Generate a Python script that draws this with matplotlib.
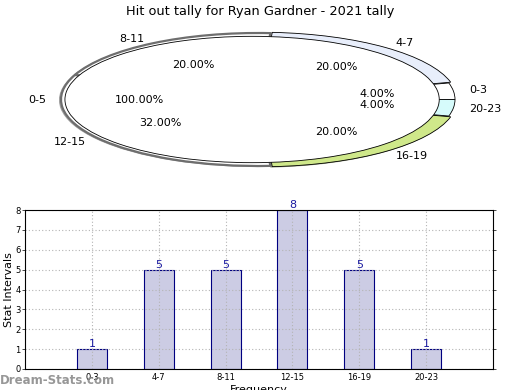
import matplotlib
matplotlib.use("Agg")
import matplotlib.pyplot as plt

title = "Hit out tally for Ryan Gardner - 2021 tally"
categories = ["0-3", "4-7", "8-11", "12-15", "16-19", "20-23"]
counts = [1, 5, 5, 8, 5, 1]
pie_colors = ["#ffffff", "#e8eefb", "#ffffff", "#ffffff", "#cfe88a", "#d6fbfb"]
inner_label = ["0-5"]
inner_value = [1]

fig = plt.figure(figsize=(5.2, 3.9), dpi=100)
fig.patch.set_facecolor("white")

# ---- pie ----
axp = fig.add_axes([61/520, (390-166)/390, 394/520, 133/390])
wedges, texts, autotexts = axp.pie(
    counts, labels=categories, colors=pie_colors, startangle=0,
    autopct="%.2f%%", pctdistance=0.61, labeldistance=1.08,
    explode=[0, 0.015, 0, 0, 0.015, 0],
    wedgeprops=dict(edgecolor="black", linewidth=0.6),
    shadow=dict(ox=-0.006, oy=-0.006, shade=0.6),
    textprops=dict(fontsize=8))
for i in (2, 3):
    wedges[i].set_edgecolor("#6e6e6e")
    wedges[i].set_linewidth(1.6)
w2, t2, a2 = axp.pie(
    inner_value, labels=inner_label, colors=["white"], startangle=0,
    radius=0.95, explode=[0.03],
    autopct="%.2f%%", pctdistance=0.6, labeldistance=1.1,
    wedgeprops=dict(edgecolor="black", linewidth=0.6),
    shadow=dict(ox=-0.014, oy=-0.012, shade=0.5),
    textprops=dict(fontsize=8))
axp.set_xlim(-1, 1)
axp.set_ylim(-1, 1)
axp.set_aspect("auto")
for t in texts + autotexts + t2 + a2:
    t.set_clip_on(False)

fig.text(0.5, 1 - 11/390, title, ha="center", va="center", fontsize=9.3)

# ---- bars ----
axb = fig.add_axes([25/520, (390-369)/390, 468/520, 159/390])
xpos = list(range(1, len(categories) + 1))
bars = axb.bar(xpos, counts, width=0.45, color="#ccccE4", edgecolor="#000080",
               linewidth=0.8, zorder=1)
for x, v in zip(xpos, counts):
    axb.text(x, v, str(v), ha="center", va="bottom", fontsize=8,
             color="#1a1aa0", zorder=3, clip_on=False)
axb.set_xlim(0, 7)
axb.set_ylim(0, 8)
axb.set_xticks(xpos)
axb.set_xticklabels(categories, fontsize=6)
axb.set_yticks(range(0, 9))
axb.tick_params(axis="y", labelsize=6, length=2, width=0.5, right=True, pad=1)
axb.tick_params(axis="x", length=0, pad=3)
axb.grid(True, linestyle=(0, (1, 2)), color="#b4b4b4", linewidth=0.8, zorder=2)
axb.set_axisbelow(False)
axb.set_ylabel("Stat Intervals", fontsize=8, labelpad=1)
axb.set_xlabel("Frequency", fontsize=8, labelpad=2)
for s in axb.spines.values():
    s.set_linewidth(0.8)
    s.set_zorder(4)

fig.text(0.0, (390-380)/390, "Dream-Stats.com", fontsize=8.5, color="#8c8c8c",
         ha="left", va="center", fontweight="semibold", alpha=0.9)

fig.savefig("out.png", dpi=100)
